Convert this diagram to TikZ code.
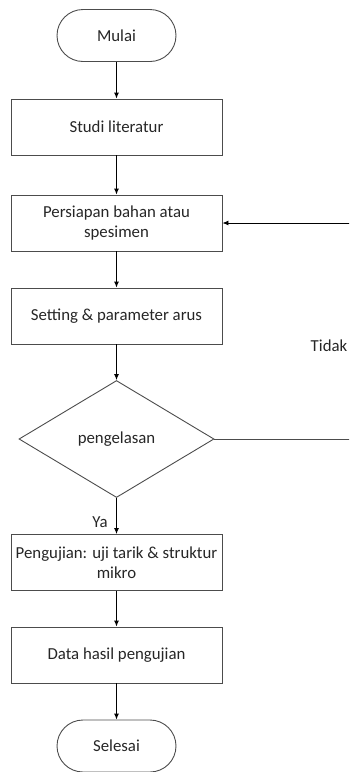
\documentclass[tikz,border=0pt]{standalone}
\usepackage{fontspec}
\setmainfont{Carlito}
\usetikzlibrary{arrows.meta,shapes.geometric}
\tikzset{
  proses/.style={draw=black!70, line width=0.9pt, minimum width=211pt, minimum height=56pt, align=center, text=black!85},
  terminal/.style={draw=black!70, line width=0.9pt, rounded corners=26pt, minimum width=119pt, minimum height=52pt, text=black!85},
  keputusan/.style={draw=black!70, line width=0.9pt, diamond, minimum width=195pt, minimum height=117pt, inner sep=0pt, text=black!85},
  panah/.style={draw=black, line width=0.9pt, -{Latex[length=6pt,width=5pt]}},
  garis/.style={draw=black!70, line width=0.9pt}
}
\begin{document}
\begin{tikzpicture}[x=1pt,y=-1pt,font=\fontsize{16.8}{20}\selectfont]
			%%%%% START %%%%%
			\clip (0,0) rectangle (349,772);
			
			\node[terminal] (mulai) at (116.5,35.5) {Mulai};
			\node[proses] (studi) at (116.5,127) {Studi literatur};
			\node[proses] (persiapan) at (116.5,223) {Persiapan bahan atau\\spesimen};
			\node[proses] (setting) at (116.5,316) {Setting \& parameter arus};
			\node[keputusan] (las) at (116.5,439) {pengelasan};
			\node[proses] (uji) at (116.5,562.5) {Pengujian: uji tarik \& struktur\\mikro};
			\node[proses] (data) at (116.5,655) {Data hasil pengujian};
			\node[terminal] (selesai) at (116.5,746) {Selesai};
			
			\node[text=black!85] (tidak) at (329,346) {Tidak};
			\node[text=black!85] (ya) at (100,522) {Ya};
			
			\draw[panah] (mulai) -- (studi);
			\draw[panah] (studi) -- (persiapan);
			\draw[panah] (persiapan) -- (setting);
			\draw[panah] (setting) -- (las);
			\draw[panah] (las) -- (uji);
			\draw[panah] (uji) -- (data);
			\draw[panah] (data) -- (selesai);
			
			% jalur kembali (tidak)
			\coordinate (kanan) at (356,0);
			\draw[garis] (las.east) -- (las.east -| kanan) -- (persiapan.east -| kanan);
			\draw[panah] (persiapan.east -| kanan) -- (persiapan.east);
			%%%%% END %%%%%
		\end{tikzpicture}
\end{document}
